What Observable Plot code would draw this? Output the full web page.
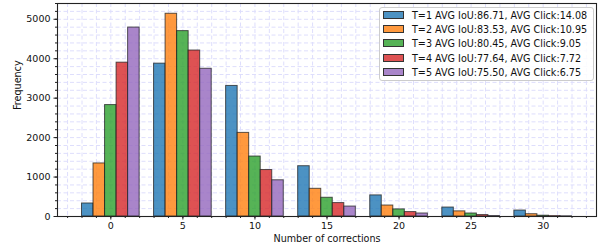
<!DOCTYPE html>
<html>
<head>
<meta charset="utf-8">
<script src="https://cdn.jsdelivr.net/npm/d3@7"></script>
<script src="https://cdn.jsdelivr.net/npm/@observablehq/plot@0.6"></script>
<style>
  html, body { margin: 0; padding: 0; background: #fff; }
  #wrap { position: relative; width: 598px; height: 247px; font-family: "DejaVu Sans", sans-serif; }
  #legend { position: absolute; left: 379px; top: 7px; width: 213px; height: 72px; border: 1px solid #cccccc; border-radius: 3px; background: rgba(255,255,255,0.85); font-size: 9.6px; color: #111; }
  .row { position: absolute; left: 3px; height: 14px; line-height: 14px; white-space: nowrap; }
  .sw { display: inline-block; width: 19px; height: 6px; border: 1px solid #333; vertical-align: middle; margin-right: 8px; position: relative; top: -1px; }
</style>
</head>
<body>
<div id="wrap"></div>
<script>
const bins = [0, 5, 10, 15, 20, 25, 30];
const seriesNames = [
  "T=1 AVG IoU:86.71, AVG Click:14.08",
  "T=2 AVG IoU:83.53, AVG Click:10.95",
  "T=3 AVG IoU:80.45, AVG Click:9.05",
  "T=4 AVG IoU:77.64, AVG Click:7.72",
  "T=5 AVG IoU:75.50, AVG Click:6.75"
];
const t1 = [330, 3875, 3310, 1275, 535, 227, 151];
const t2 = [1345, 5140, 2120, 702, 278, 130, 58];
const t3 = [2825, 4700, 1520, 475, 180, 76, 20];
const t4 = [3900, 4208, 1178, 340, 112, 36, 10];
const t5 = [4790, 3745, 918, 252, 76, 12, 5];
const colors = ["#1f77b4", "#ff7f0e", "#2ca02c", "#d62728", "#9467bd"];
const xTicks = [0, 5, 10, 15, 20, 25, 30];
const yTicks = [0, 1000, 2000, 3000, 4000, 5000];

const allSeries = [t1, t2, t3, t4, t5];
const data = [];
allSeries.forEach((vals, si) => {
  vals.forEach((v, bi) => {
    const x1 = bins[bi] - 2 + 0.8 * si;
    data.push({series: seriesNames[si], x1, x2: x1 + 0.8, value: v});
  });
});

const minorX = d3.range(-3, 34);
const minorY = d3.range(0, 5401, 200);

const chart = Plot.plot({
  width: 598,
  height: 247,
  marginLeft: 57,
  marginRight: 2,
  marginTop: 3,
  marginBottom: 31,
  style: {fontFamily: "DejaVu Sans, sans-serif", fontSize: "9.5px", color: "#111", background: "#fff"},
  x: {domain: [-3.7, 33.7]},
  y: {domain: [0, 5400]},
  color: {domain: seriesNames, range: colors},
  marks: [
    Plot.gridX(minorX, {stroke: "#dedefc", strokeOpacity: 1, strokeWidth: 1, strokeDasharray: "4,2.5"}),
    Plot.gridY(minorY, {stroke: "#dedefc", strokeOpacity: 1, strokeWidth: 1, strokeDasharray: "4,2.5"}),
    Plot.rectY(data, {x1: "x1", x2: "x2", y: "value", fill: "series", fillOpacity: 0.8, stroke: "#222", strokeOpacity: 0.75, strokeWidth: 1, inset: 0}),
    Plot.axisX(minorX, {tickSize: 2, text: null, stroke: "#222", label: null}),
    Plot.axisY(minorY, {tickSize: 2, text: null, stroke: "#222", label: null}),
    Plot.axisX(xTicks, {tickSize: 3.5, tickPadding: 2.5, stroke: "#222", label: null, fontSize: 9.5, tickFormat: d3.format("d")}),
    Plot.axisY(yTicks, {tickSize: 3.5, tickPadding: 3.5, stroke: "#222", label: null, fontSize: 9.5, tickFormat: d3.format("d")}),
    Plot.frame({stroke: "#222", strokeWidth: 1.1}),
    Plot.text(["Number of corrections"], {frameAnchor: "bottom", dy: 25, fontSize: 9.6, fill: "#111"}),
    Plot.text(["Frequency"], {frameAnchor: "left", dx: -40, rotate: -90, fontSize: 9.6, fill: "#111"})
  ]
});

const wrap = document.getElementById("wrap");
wrap.appendChild(chart);

const legend = document.createElement("div");
legend.id = "legend";
seriesNames.forEach((name, i) => {
  const row = document.createElement("div");
  row.className = "row";
  row.style.top = (1 + i * 14.2) + "px";
  const sw = document.createElement("span");
  sw.className = "sw";
  const c = d3.color(colors[i]); c.opacity = 0.8;
  sw.style.background = c.formatRgb();
  row.appendChild(sw);
  row.appendChild(document.createTextNode(name));
  legend.appendChild(row);
});
wrap.appendChild(legend);
</script>
</body>
</html>
